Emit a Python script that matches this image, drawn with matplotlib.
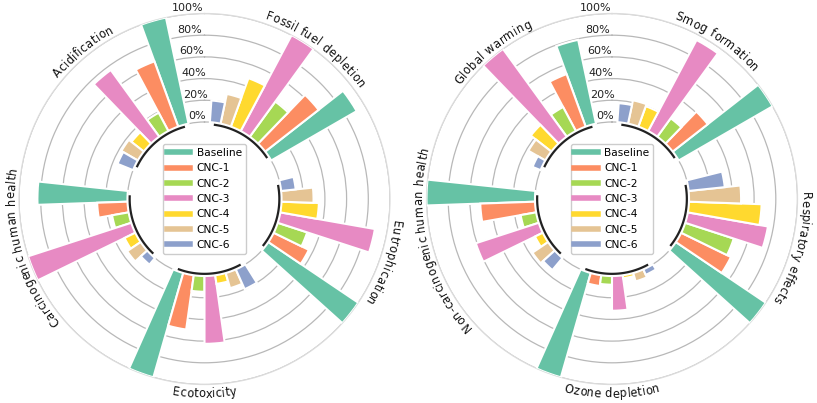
import numpy as np
import matplotlib.pyplot as plt
from matplotlib.lines import Line2D
from matplotlib.font_manager import FontProperties, findfont
from matplotlib.ft2font import FT2Font, LoadFlags, Kerning

series = ["Baseline", "CNC-1", "CNC-2", "CNC-3", "CNC-4", "CNC-5", "CNC-6"]
colors = ["#66c2a5", "#fc8d62", "#a6d854", "#e78ac3", "#ffd92f", "#e5c494", "#8da0cb"]

# left chart (values in % of category max, order = series)
left_groups = ["Acidification", "Carcinogenic human health", "Ecotoxicity",
               "Eutrophication", "Fossil fuel depletion"]
acidification = [100, 64, 19, 76, 14.5, 17.5, 15.5]
carcinogenic = [83, 28, 15.5, 100, 11, 15, 8]
ecotoxicity = [100, 50.5, 14.5, 62.5, 8, 14.5, 20]
eutrophication = [100, 36, 28.5, 88.5, 34.5, 29.5, 13.5]
fossil_fuel = [91, 62.5, 40, 100, 47.5, 28, 20]

# right chart
right_groups = ["Global warming", "Non-carcinogenic human health", "Ozone depletion",
                "Respiratory effects", "Smog formation"]
global_warming = [79, 51.5, 25, 100, 24, 18, 8]
non_carcinogenic = [100, 50.5, 14.5, 61, 8, 17.5, 14.5]
ozone_depletion = [100, 10, 8, 32, 2.8, 8, 5.5]
respiratory = [100, 51, 47, 75, 67, 48, 33.5]
smog_formation = [100, 41, 21, 95, 20, 22, 17.5]

r_ticks = [0, 20, 40, 60, 80, 100]
RMIN = -71
DPI = 100


def glyph_centers(text, fs):
    # centre of each glyph's ink along the baseline (pixels), with kerning
    font = FT2Font(findfont(FontProperties(size=fs)), hinting_factor=1)
    font.set_size(fs, DPI)
    x = 0.0
    prev = None
    centers = []
    for ch in text:
        gi = font.get_char_index(ord(ch))
        if prev is not None:
            x += font.get_kerning(prev, gi, Kerning.DEFAULT) / 64
        g = font.load_glyph(gi, flags=LoadFlags.NO_HINTING)
        adv = g.linearHoriAdvance / 65536
        c = adv / 2
        ink = (g.bbox[0] + g.bbox[2]) / 128
        if ch != " " and 0 < ink < adv * 1.2:
            c = ink
        centers.append(x + c)
        x += adv
        prev = gi
    return np.array(centers) - x / 2


def curved_text(ax, text, theta_deg, r, fs):
    # place letters one by one along the circle
    p0 = ax.transData.transform((0, RMIN))
    p1 = ax.transData.transform((0, r))
    r_px = np.hypot(*(p1 - p0))
    centers = glyph_centers(text, fs)
    bottom = 120 < theta_deg < 240
    tc = np.deg2rad(theta_deg)
    for ch, s in zip(text, centers):
        if ch == " ":
            continue
        if bottom:
            th = tc + s / r_px
            rot = np.rad2deg(th) - 180
        else:
            th = tc - s / r_px
            rot = np.rad2deg(th)
        ax.text(th, r, ch, ha="center", va="baseline", rotation=rot,
                rotation_mode="anchor", fontsize=fs, color="#111111")


def draw(ax, groups, values, label_angles):
    ax.set_theta_offset(np.pi / 2)
    ax.set_ylim(RMIN, 100)
    ax.set_xticks([])
    ax.set_yticks(r_ticks)
    ax.set_yticklabels([])
    ax.yaxis.grid(True, color="#b8b8b8", lw=0.9)
    ax.xaxis.grid(False)
    ax.set_axisbelow(True)
    ax.spines["polar"].set_color("#dcdcdc")
    ax.spines["polar"].set_linewidth(0.9)

    slot = np.deg2rad(8)
    for g, vals in enumerate(values):
        idx = np.arange(7) + g * 9 + 2
        theta = idx * slot
        ax.bar(theta, vals, width=slot, bottom=0, color=colors,
               edgecolor="white", linewidth=1.5, zorder=3)
        arc = np.linspace(theta[0], theta[-1], 60)
        ax.plot(arc, [-2] * 60, color="#222222", lw=1.6, zorder=4)

    for name, a in zip(groups, label_angles):
        r = 112 if 120 < a < 240 else 104
        curved_text(ax, name, a, r, 8.3)

    for v in r_ticks:
        ax.text(np.deg2rad(5), v + 5.5, f"{v}%", ha="center", va="center",
                fontsize=8, color="#222222", zorder=5)

    handles = [Line2D([0], [0], color=c, lw=4) for c in colors]
    ax.legend(handles, series, loc="center", fontsize=7.7, handlelength=2.2,
              handletextpad=0.6, labelspacing=0.5, borderpad=0.35,
              borderaxespad=0, framealpha=1, edgecolor="#cccccc")


fig = plt.figure(figsize=(8.17, 4.03), dpi=DPI)
ax1 = fig.add_axes([19 / 817, 18.5 / 403, 371 / 817, 371 / 403], projection="polar")
ax2 = fig.add_axes([426.5 / 817, 18.5 / 403, 371 / 817, 371 / 403], projection="polar")

draw(ax1, left_groups,
     [acidification, carcinogenic, ecotoxicity, eutrophication, fossil_fuel],
     [39.5, 105.5, 180, 250.5, 323.5])
draw(ax2, right_groups,
     [global_warming, non_carcinogenic, ozone_depletion, respiratory, smog_formation],
     [39, 103.5, 180, 255, 326.5])

fig.savefig("out.png", dpi=DPI)
